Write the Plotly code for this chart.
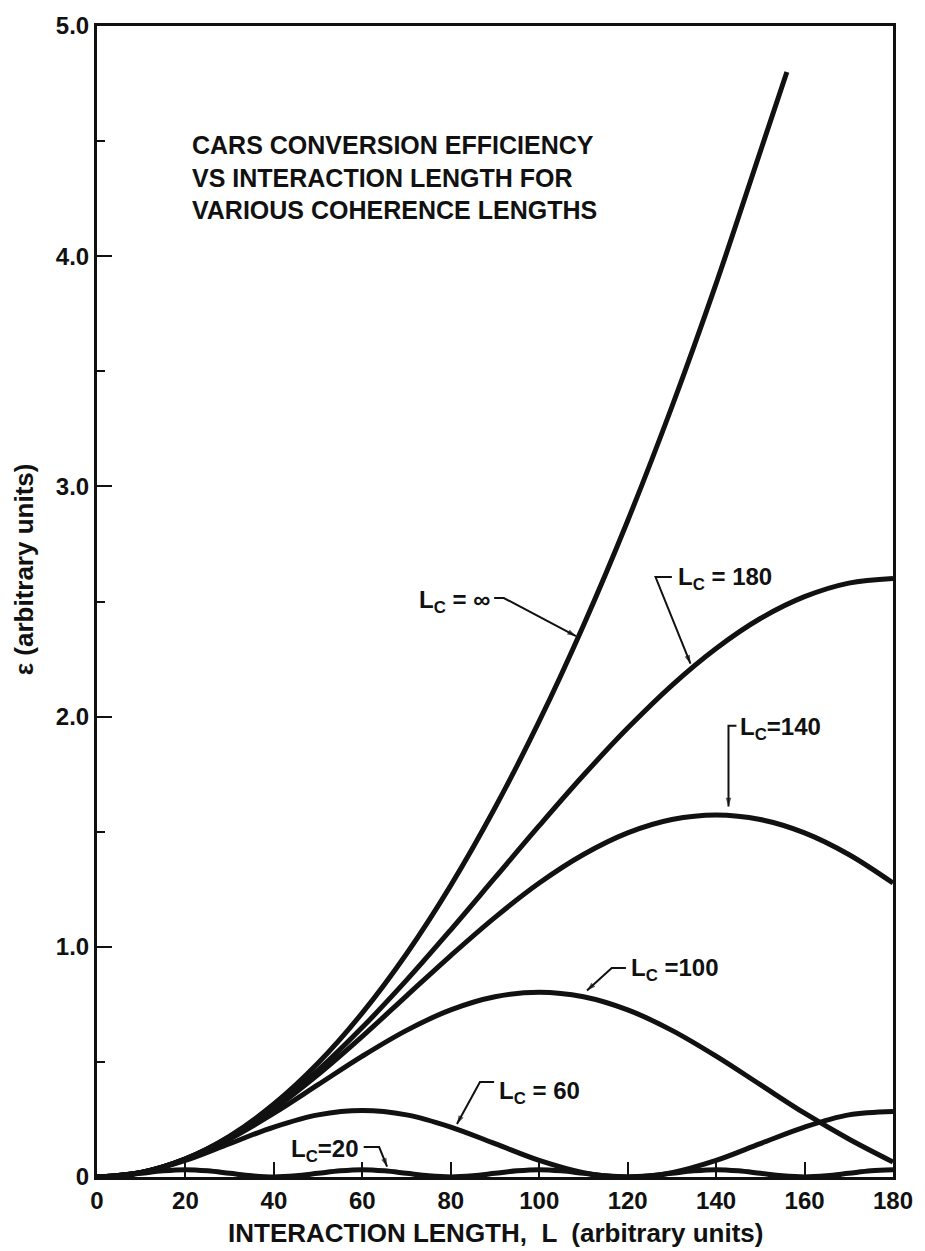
import plotly.graph_objects as go

# ---------------- data ----------------
L_inf = [0, 10, 20, 30, 40, 50, 60, 70, 80, 90, 100, 110, 120, 130, 140, 150, 156]
eff_inf = [0, 0.020, 0.079, 0.178, 0.317, 0.495, 0.713, 0.970, 1.267, 1.604,
           1.980, 2.396, 2.851, 3.346, 3.881, 4.455, 4.800]

L10 = [0, 10, 20, 30, 40, 50, 60, 70, 80, 90, 100, 110, 120, 130, 140, 150, 160, 170, 180]
eff_180 = [0, 0.020, 0.079, 0.174, 0.304, 0.464, 0.650, 0.855, 1.074, 1.300,
           1.526, 1.745, 1.950, 2.136, 2.296, 2.426, 2.521, 2.580, 2.600]
eff_140 = [0, 0.020, 0.078, 0.172, 0.296, 0.445, 0.611, 0.787, 0.962, 1.128,
           1.277, 1.401, 1.495, 1.553, 1.573, 1.553, 1.495, 1.401, 1.277]
eff_100 = [0, 0.020, 0.077, 0.165, 0.277, 0.401, 0.525, 0.637, 0.726, 0.783,
           0.803, 0.783, 0.726, 0.637, 0.525, 0.401, 0.277, 0.165, 0.065]
eff_60 = [0, 0.019, 0.072, 0.145, 0.217, 0.270, 0.289, 0.270, 0.217, 0.145,
          0.072, 0.019, 0, 0.019, 0.072, 0.145, 0.217, 0.270, 0.285]

L5 = [0, 5, 10, 15, 20, 25, 30, 35, 40, 45, 50, 55, 60, 65, 70, 75, 80, 85, 90,
      95, 100, 105, 110, 115, 120, 125, 130, 135, 140, 145, 150, 155, 160, 165,
      170, 175, 180]
eff_20 = [0, .005, .016, .027, .032, .027, .016, .005, 0, .005, .016, .027, .032,
          .027, .016, .005, 0, .005, .016, .027, .032, .027, .016, .005, 0, .005,
          .016, .027, .032, .027, .016, .005, 0, .005, .016, .027, .032]

x_ticks = [0, 20, 40, 60, 80, 100, 120, 140, 160, 180]
x_ticktext = ["0", "20", "40", "60", "80", "100", "120", "140", "160", "180"]
y_ticks = [0, 1, 2, 3, 4, 5]
y_ticktext = ["0", "1.0", "2.0", "3.0", "4.0", "5.0"]

INK = "#111111"
FONT = "Liberation Sans, Arial, sans-serif"

fig = go.Figure()
for xs, ys in [(L5, eff_20), (L10, eff_60), (L10, eff_100), (L10, eff_140),
               (L10, eff_180), (L_inf, eff_inf)]:
    fig.add_trace(go.Scatter(x=xs, y=ys, mode="lines",
                             line=dict(color=INK, width=5, shape="spline", smoothing=1.0),
                             showlegend=False, hoverinfo="skip"))

fig.update_layout(
    width=925, height=1251,
    margin=dict(l=97, r=30, t=24, b=74),
    paper_bgcolor="white", plot_bgcolor="white",
    font=dict(family=FONT, color=INK),
)
axis_common = dict(showline=True, linewidth=3, linecolor=INK, mirror=True,
                   showgrid=False, zeroline=False, ticks="inside", ticklen=15,
                   tickwidth=2, tickcolor=INK,
                   tickfont=dict(family=FONT, size=24, color=INK, weight="bold"))
fig.update_xaxes(range=[0, 180], tickvals=x_ticks, ticktext=x_ticktext, **axis_common)
fig.update_yaxes(range=[0, 5], tickvals=y_ticks, ticktext=y_ticktext,
                 minor=dict(ticks="inside", ticklen=8, tickwidth=2, tickcolor=INK, dtick=0.5),
                 **axis_common)

bold = dict(family=FONT, size=24, color=INK, weight="bold")

# titles
fig.add_annotation(text="CARS CONVERSION EFFICIENCY<br>VS INTERACTION LENGTH FOR<br>VARIOUS COHERENCE LENGTHS",
                   xref="x", yref="y", x=21, y=4.34, xanchor="left", yanchor="middle",
                   align="left", showarrow=False,
                   font=dict(family=FONT, size=25, color=INK, weight="bold"))
fig.add_annotation(text="INTERACTION LENGTH,  L  (arbitrary units)", xref="paper", yref="paper",
                   x=0.5, y=0, yshift=-56, xanchor="center", yanchor="middle", showarrow=False,
                   font=dict(family=FONT, size=26, color=INK, weight="bold"))
fig.add_annotation(text="ε (arbitrary units)", xref="paper", yref="y", x=0, y=2.64,
                   xshift=-73, textangle=-90, xanchor="center", yanchor="middle",
                   showarrow=False, font=dict(family=FONT, size=26, color=INK, weight="bold"))

# curve labels: (text, text x, text y, anchor, leader path ending at the arrow tip)
labels = [
    ("L<sub>C</sub> = ∞", 89.3, 2.50, "right", [(89.8, 2.515), (92.0, 2.515), (108.3, 2.35)]),
    ("L<sub>C</sub> = 180", 130.9, 2.60, "left", [(130.0, 2.606), (126.3, 2.606), (134.2, 2.23)]),
    ("L<sub>C</sub>=140", 145.0, 1.95, "left", [(144.6, 1.96), (142.8, 1.96), (142.8, 1.61)]),
    ("L<sub>C</sub> =100", 120.2, 0.90, "left", [(119.6, 0.908), (116.4, 0.908), (110.8, 0.81)]),
    ("L<sub>C</sub> = 60", 90.5, 0.365, "left", [(89.8, 0.413), (86.6, 0.413), (81.4, 0.23)]),
    ("L<sub>C</sub>=20", 59.6, 0.117, "right", [(60.3, 0.13), (63.8, 0.13), (65.6, 0.045)]),
]
for text, tx, ty, anc, path in labels:
    fig.add_annotation(text=text, xref="x", yref="y", x=tx, y=ty, xanchor=anc,
                       yanchor="middle", showarrow=False, font=bold)
    fig.add_trace(go.Scatter(
        x=[p[0] for p in path], y=[p[1] for p in path], mode="lines+markers",
        line=dict(color=INK, width=2),
        marker=dict(symbol=["circle"] * (len(path) - 1) + ["arrow"],
                    size=[0] * (len(path) - 1) + [9], color=INK, angleref="previous",
                    line=dict(width=0)),
        showlegend=False, hoverinfo="skip", cliponaxis=False))

fig.write_html("out.html")
